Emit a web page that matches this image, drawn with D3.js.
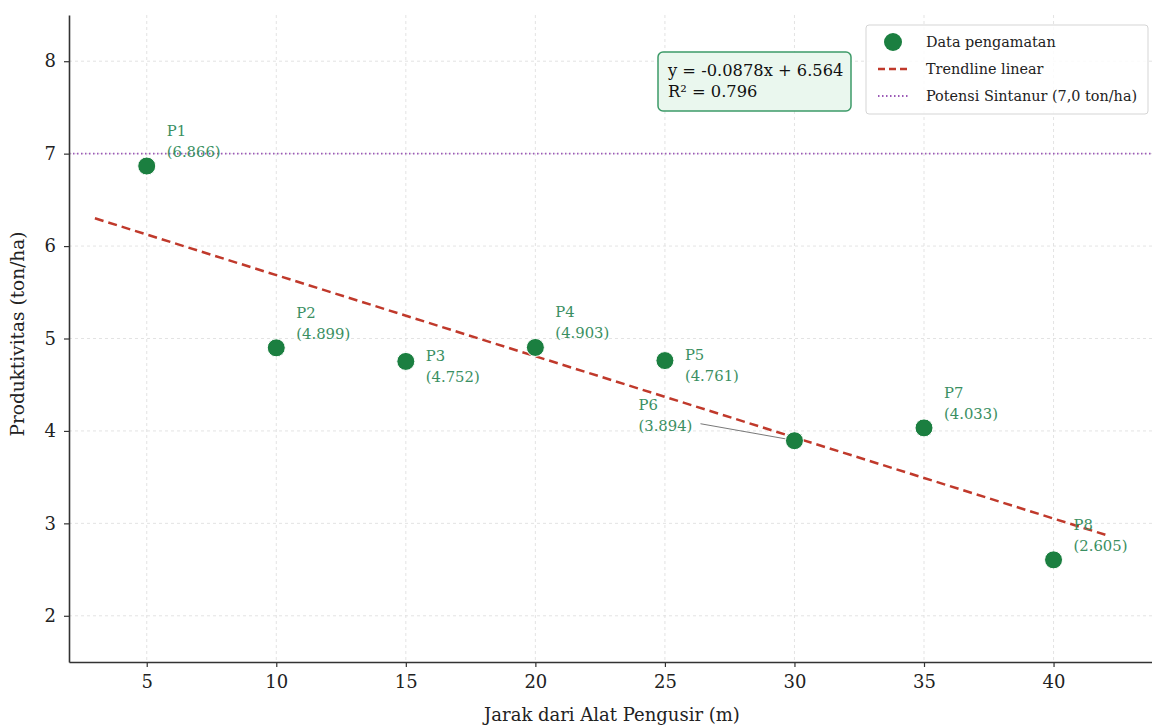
<!DOCTYPE html>
<html>
<head>
<meta charset="utf-8">
<script src="https://cdn.jsdelivr.net/npm/d3@7"></script>
<style>
  html, body { margin: 0; padding: 0; background: #fff; }
  svg { display: block; font-family: "DejaVu Serif", "Liberation Serif", serif; }
</style>
</head>
<body>
<svg id="chart" width="1152" height="727"></svg>
<script>
// ---- data ----
const distances = [5, 10, 15, 20, 25, 30, 35, 40];
const pointLabels = ["P1", "P2", "P3", "P4", "P5", "P6", "P7", "P8"];
const productivity = [6.866, 4.899, 4.752, 4.903, 4.761, 3.894, 4.033, 2.605];
const trendSlope = -0.0878;
const trendIntercept = 6.564;
const trendRange = [3, 42];
const rSquared = 0.796;
const potentialYield = 7.0;
const xTicks = [5, 10, 15, 20, 25, 30, 35, 40];
const yTicks = [2, 3, 4, 5, 6, 7, 8];
const legendLabels = ["Data pengamatan", "Trendline linear", "Potensi Sintanur (7,0 ton/ha)"];
const xAxisTitle = "Jarak dari Alat Pengusir (m)";
const yAxisTitle = "Produktivitas (ton/ha)";

// label placement (style): above / below / left-with-leader
const labelPlacement = ["above", "above", "below", "above", "below", "left", "above", "above"];

// ---- layout ----
const svg = d3.select("#chart");
const FONT = "'DejaVu Serif', 'Liberation Serif', serif";
const mLeft = 69, mRight = 1152, mTop = 15, mBottom = 662;
const x = d3.scaleLinear().domain([2, 43.8]).range([mLeft, mRight]);
const y = d3.scaleLinear().domain([1.5, 8.5]).range([mBottom, mTop]);

const green = "#1b7f40";
const labelGreen = "#3a8f62";

// grid
const grid = svg.append("g");
grid.selectAll("line.gx").data(xTicks).join("line")
  .attr("x1", d => x(d)).attr("x2", d => x(d))
  .attr("y1", mTop).attr("y2", mBottom)
  .attr("stroke", "#dcdcdc").attr("stroke-width", 0.8).attr("stroke-dasharray", "3,3");
grid.selectAll("line.gy").data(yTicks).join("line")
  .attr("x1", mLeft).attr("x2", mRight)
  .attr("y1", d => y(d)).attr("y2", d => y(d))
  .attr("stroke", "#dcdcdc").attr("stroke-width", 0.8).attr("stroke-dasharray", "3,3");

// potential line
svg.append("line")
  .attr("x1", mLeft).attr("x2", mRight)
  .attr("y1", y(potentialYield)).attr("y2", y(potentialYield))
  .attr("stroke", "#9b59b6").attr("stroke-width", 1.8).attr("stroke-dasharray", "1.5,2.5");

// trend line
const trendData = trendRange.map(v => [v, trendIntercept + trendSlope * v]);
svg.append("path")
  .datum(trendData)
  .attr("d", d3.line().x(d => x(d[0])).y(d => y(d[1])))
  .attr("fill", "none").attr("stroke", "#c0392b").attr("stroke-width", 2.5)
  .attr("stroke-dasharray", "9,5");

// axes
const xAxis = svg.append("g").attr("transform", `translate(0,${mBottom})`)
  .call(d3.axisBottom(x).tickValues(xTicks).tickFormat(d3.format("d")).tickSize(5).tickPadding(8).tickSizeOuter(0));
const yAxis = svg.append("g").attr("transform", `translate(${mLeft},0)`)
  .call(d3.axisLeft(y).tickValues(yTicks).tickFormat(d3.format("d")).tickSize(5).tickPadding(8).tickSizeOuter(0));
[xAxis, yAxis].forEach(a => {
  a.select(".domain").attr("stroke", "#333").attr("stroke-width", 1.6);
  a.selectAll(".tick line").attr("stroke", "#333").attr("stroke-width", 1.2);
  a.selectAll(".tick text").attr("fill", "#222").style("font-size", "18px")
    .style("font-family", FONT);
});

// axis titles
svg.append("text").attr("x", 612).attr("y", 721)
  .attr("text-anchor", "middle").attr("fill", "#222").style("font-size", "18px")
  .text(xAxisTitle);
svg.append("text").attr("transform", `translate(24,${334}) rotate(-90)`)
  .attr("text-anchor", "middle").attr("fill", "#222").style("font-size", "18.5px")
  .text(yAxisTitle);

// points
const pts = distances.map((d, i) => ({ x: d, y: productivity[i], label: pointLabels[i], place: labelPlacement[i] }));

// leader lines for left-placed labels
svg.selectAll("line.leader").data(pts.filter(p => p.place === "left")).join("line")
  .attr("x1", p => x(p.x) - 94).attr("y1", p => y(p.y) - 17)
  .attr("x2", p => x(p.x) - 4).attr("y2", p => y(p.y) - 1)
  .attr("stroke", "#555").attr("stroke-width", 0.8);

svg.selectAll("circle.pt").data(pts).join("circle")
  .attr("cx", p => x(p.x)).attr("cy", p => y(p.y)).attr("r", 9)
  .attr("fill", green).attr("stroke", "#ffffff").attr("stroke-width", 1);

// labels
const lab = svg.selectAll("text.pl").data(pts).join("text")
  .attr("fill", labelGreen).style("font-size", "14.8px")
  .attr("transform", p => {
    const px = x(p.x), py = y(p.y);
    if (p.place === "above") return `translate(${px + 20},${py - 30})`;
    if (p.place === "below") return `translate(${px + 20},${py - 0.5})`;
    return `translate(${px - 156},${py - 31})`;
  });
lab.append("tspan").attr("x", 0).attr("dy", 0).text(p => p.label);
lab.append("tspan").attr("x", 0).attr("dy", 21).text(p => `(${p.y.toFixed(3)})`);

// equation box
const eq = svg.append("g").attr("transform", "translate(658,52)");
eq.append("rect").attr("width", 193).attr("height", 59).attr("rx", 5)
  .attr("fill", "#eaf7ee").attr("stroke", "#3d9a68").attr("stroke-width", 1.5);
eq.append("text").attr("x", 10).attr("y", 24).attr("fill", "#111").style("font-size", "16.3px")
  .text(`y = ${trendSlope.toFixed(4)}x + ${trendIntercept.toFixed(3)}`);
eq.append("text").attr("x", 10).attr("y", 45).attr("fill", "#111").style("font-size", "16.3px")
  .text(`R² = ${rSquared.toFixed(3)}`);

// legend
const lg = svg.append("g").attr("transform", "translate(866,25)");
lg.append("rect").attr("width", 282).attr("height", 89).attr("rx", 3)
  .attr("fill", "#fff").attr("fill-opacity", 0.85).attr("stroke", "#d5d5d5").attr("stroke-width", 1);
const rows = [17, 44, 71];
lg.append("circle").attr("cx", 27).attr("cy", rows[0]).attr("r", 9).attr("fill", green);
lg.append("line").attr("x1", 12).attr("x2", 42).attr("y1", rows[1]).attr("y2", rows[1])
  .attr("stroke", "#c0392b").attr("stroke-width", 2.5).attr("stroke-dasharray", "7,4");
lg.append("line").attr("x1", 12).attr("x2", 42).attr("y1", rows[2]).attr("y2", rows[2])
  .attr("stroke", "#9b59b6").attr("stroke-width", 1.8).attr("stroke-dasharray", "1.5,2.5");
lg.selectAll("text.lt").data(legendLabels).join("text")
  .attr("x", 60).attr("y", (d, i) => rows[i] + 5)
  .attr("fill", "#222").style("font-size", "14.4px").text(d => d);
</script>
</body>
</html>
